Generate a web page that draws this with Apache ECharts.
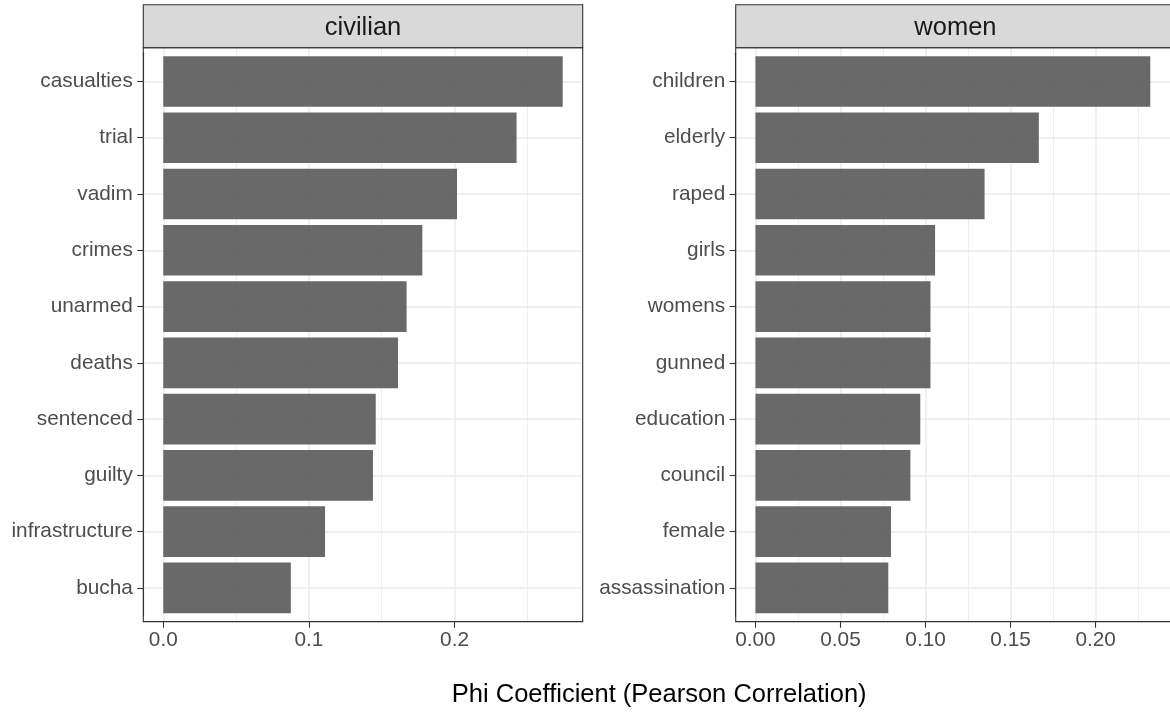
<!DOCTYPE html>
<html>
<head>
<meta charset="utf-8">
<title>Phi Coefficient by facet</title>
<script src="https://cdn.jsdelivr.net/npm/echarts@6/dist/echarts.min.js"></script>
<style>
  html, body { margin: 0; padding: 0; background: #ffffff; }
  #chart { width: 1170px; height: 713px; }
</style>
</head>
<body>
<div id="chart"></div>
<script>
// Terms most correlated with each keyword (phi coefficient)
const civilianTerms = ['casualties', 'trial', 'vadim', 'crimes', 'unarmed', 'deaths', 'sentenced', 'guilty', 'infrastructure', 'bucha'];
const civilianPhi = [0.2743, 0.2426, 0.2017, 0.1779, 0.1671, 0.1612, 0.1459, 0.1440, 0.1111, 0.0876];

const womenTerms = ['children', 'elderly', 'raped', 'girls', 'womens', 'gunned', 'education', 'council', 'female', 'assassination'];
const womenPhi = [0.2321, 0.1666, 0.1347, 0.1056, 0.1029, 0.1029, 0.0969, 0.0911, 0.0797, 0.0781];

// Axis breaks
const civilianMajorTicks = [0, 0.1, 0.2];
const civilianMinorTicks = [0.05, 0.15, 0.25];
const womenMajorTicks = [0, 0.05, 0.10, 0.15, 0.20];
const womenMinorTicks = [0.025, 0.075, 0.125, 0.175, 0.225];

const facetTitles = ['civilian', 'women'];
const xAxisTitle = 'Phi Coefficient (Pearson Correlation)';

const FONT = '"Liberation Sans", Arial, Helvetica, sans-serif';
const AXIS_TEXT = 20.8;
const TITLE_TEXT = 25.5;
const PANEL_W = 439.4;
const PANEL_TOP = 47.7;
const PANEL_BOTTOM = 621.7;
const STRIP_TOP = 4.7;

const panels = [
  { title: facetTitles[0], terms: civilianTerms, values: civilianPhi, major: civilianMajorTicks, minor: civilianMinorTicks, digits: 1, left: 143.3 },
  { title: facetTitles[1], terms: womenTerms, values: womenPhi, major: womenMajorTicks, minor: womenMinorTicks, digits: 2, left: 735.7 }
];

const grid = [], xAxis = [], yAxis = [], series = [], graphic = [];
const darkLine = { color: '#333333', width: 1.1 };

panels.forEach(function (p) {
  const vmax = Math.max.apply(null, p.values);
  const lo = -0.05 * vmax, hi = 1.05 * vmax;       // 5% padding on the value scale
  const n = p.terms.length;
  const unit = (PANEL_BOTTOM - PANEL_TOP) / (n - 1 + 1.2); // 0.6 category padding each side
  const dataTop = PANEL_TOP + 0.1 * unit;
  const dataHeight = n * unit;

  // full panel grid: carries the vertical gridlines
  const frameIdx = grid.length;
  grid.push({ left: p.left, width: PANEL_W, top: PANEL_TOP, height: PANEL_BOTTOM - PANEL_TOP, show: false });
  // inner grid: bars and category axis
  const dataIdx = grid.length;
  grid.push({ left: p.left, width: PANEL_W, top: dataTop, height: dataHeight, show: false });

  xAxis.push({
    type: 'value', gridIndex: frameIdx, min: lo, max: hi, position: 'bottom',
    axisLine: { show: false }, axisTick: { show: false, customValues: p.major },
    axisLabel: { show: false },
    splitLine: { show: true, lineStyle: { color: '#EBEBEB', width: 1.5 } }
  });
  xAxis.push({
    type: 'value', gridIndex: frameIdx, min: lo, max: hi, position: 'top',
    axisLine: { show: false }, axisTick: { show: false, customValues: p.minor },
    axisLabel: { show: false },
    splitLine: { show: true, lineStyle: { color: '#EBEBEB', width: 0.8 } }
  });
  yAxis.push({ type: 'value', gridIndex: frameIdx, show: false });

  const xIdx = xAxis.length;
  xAxis.push({
    type: 'value', gridIndex: dataIdx, min: lo, max: hi, position: 'bottom',
    offset: PANEL_BOTTOM - (dataTop + dataHeight),
    axisLine: { show: true, onZero: false, lineStyle: darkLine },
    axisTick: { show: true, customValues: p.major, length: 6, lineStyle: darkLine },
    axisLabel: {
      customValues: p.major,
      formatter: function (v) { return v.toFixed(p.digits); },
      color: '#4D4D4D', fontSize: AXIS_TEXT, fontFamily: FONT, margin: 8
    },
    splitLine: { show: false }
  });
  const yIdx = yAxis.length;
  yAxis.push({
    type: 'category', gridIndex: dataIdx, data: p.terms, inverse: true, position: 'left',
    axisLine: { show: true, onZero: false, lineStyle: darkLine },
    axisTick: { show: true, alignWithLabel: true, length: 6, lineStyle: darkLine },
    axisLabel: { color: '#4D4D4D', fontSize: AXIS_TEXT, fontFamily: FONT, margin: 10.5, padding: [4, 0, 0, 0] },
    splitLine: { show: false }
  });

  series.push({
    type: 'bar', xAxisIndex: xIdx, yAxisIndex: yIdx,
    data: p.values, barWidth: '90%',
    itemStyle: { color: 'rgba(89,89,89,0.9)' },
    markLine: {
      silent: true, z: 1, symbol: 'none', animation: false,
      label: { show: false },
      lineStyle: { color: '#EBEBEB', width: 1.5, type: 'solid' },
      data: p.terms.map(function (t) { return { yAxis: t }; })
    }
  });

  // facet strip
  graphic.push({
    type: 'rect', z: 50,
    shape: { x: p.left, y: STRIP_TOP, width: PANEL_W, height: PANEL_TOP - STRIP_TOP },
    style: { fill: '#D9D9D9', stroke: '#333333', lineWidth: 1.1 }
  });
  graphic.push({
    type: 'text', z: 51, x: p.left + PANEL_W / 2, y: (STRIP_TOP + PANEL_TOP) / 2 + 1.8,
    style: { text: p.title, fill: '#1A1A1A', fontSize: TITLE_TEXT, fontFamily: FONT, align: 'center', verticalAlign: 'middle' }
  });
  // panel border
  graphic.push({
    type: 'rect', z: 50,
    shape: { x: p.left, y: PANEL_TOP, width: PANEL_W, height: PANEL_BOTTOM - PANEL_TOP },
    style: { fill: 'none', stroke: '#333333', lineWidth: 1.1 }
  });
});

// shared x-axis title, centred across both panels
graphic.push({
  type: 'text', z: 51,
  x: (panels[0].left + panels[1].left + PANEL_W) / 2, y: 695,
  style: { text: xAxisTitle, fill: '#000000', fontSize: TITLE_TEXT, fontFamily: FONT, align: 'center', verticalAlign: 'middle' }
});

const chart = echarts.init(document.getElementById('chart'), null, { renderer: 'canvas' });
chart.setOption({
  animation: false,
  backgroundColor: '#ffffff',
  grid: grid,
  xAxis: xAxis,
  yAxis: yAxis,
  series: series,
  graphic: graphic
});
</script>
</body>
</html>
